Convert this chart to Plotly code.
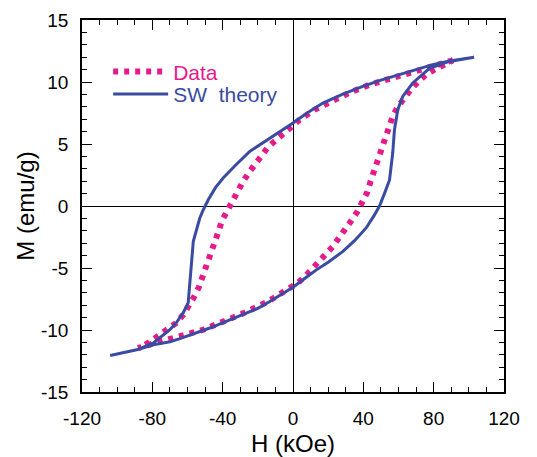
import plotly.graph_objects as go

# SW theory: descending (upper) branch then ascending (lower) branch
sw_h_up = [103, 89, 79.5, 70, 60.5, 50, 39.7, 28, 17, 8, 0, -10, -24.6, -33, -39.7, -44,
           -48.2, -51, -53, -56.7, -59.6, -62.4, -66, -70, -79.4, -88.9, -104]
sw_m_up = [12.0, 11.7, 11.4, 11.0, 10.6, 10.15, 9.65, 9.0, 8.3, 7.5, 6.7, 5.75, 4.4, 3.25, 2.26, 1.5,
           0.5, -0.3, -0.97, -2.85, -7.8, -8.6, -9.35, -9.98, -11.05, -11.6, -12.05]
sw_h_lo = [-104, -88.9, -79.4, -70, -64.3, -55, -47.3, -38, -28.4, -20, -13.2, -6, 0, 9.5, 13.3, 20,
           28.4, 35, 41.6, 46, 49.2, 52, 54.9, 56.7, 57.7, 59.6, 62.4, 68.1, 77.6, 88.9, 103]
sw_m_lo = [-12.05, -11.6, -11.2, -10.95, -10.7, -10.25, -9.84, -9.3, -8.77, -8.25, -7.7, -7.1, -6.55,
           -5.55, -5.15, -4.53, -3.66, -2.8, -1.77, -0.8, 0, 1.0, 2.1, 4.27, 6.15, 7.77, 8.84, 9.92, 11.1,
           11.66, 12.0]

# Measured data
data_h_up = [91, 85, 80, 75, 70, 60.5, 49.2, 43.5, 33.1, 22.7, 12.3, 3.8, -0.9, -5.7, -9.4, -14.2,
             -17.4, -21.2, -25, -28.7, -31.6, -35, -38.2, -40.6, -42.5, -44.8, -46.3, -48.8, -51,
             -53.5, -56.3, -59.6, -62.4, -66.6, -70.9, -75.6, -79.8, -84.1, -88]
data_m_up = [11.75, 11.5, 11.3, 11.1, 10.9, 10.59, 10.05, 9.78, 9.2, 8.5, 7.77, 6.96, 6.4, 5.9, 5.35,
             4.76, 4.14, 3.47, 2.72, 1.9, 1.18, 0.37, -0.43, -1.24, -2.1, -3.0, -3.87, -4.8, -5.73,
             -6.53, -7.34, -8.1, -8.77, -9.44, -9.92, -10.46, -10.8, -11.2, -11.45]
data_h_lo = [-88, -84, -79.8, -72.8, -67.1, -61.4, -56.7, -51, -46.3, -40.6, -35.9, -30.2, -25, -20.4,
             -15.1, -11, -5.7, -0.9, 2.8, 7.4, 11.3, 15.5, 19.3, 22.7, 26.1, 29.9, 33.1, 36.5, 39.7,
             42.2, 44.1, 46.4, 48.2, 50.5, 52.6, 54.5, 56.7, 59.6, 63.4, 67.2, 71.5, 75.7, 80.4, 85.1, 91]
data_m_lo = [-11.45, -11.3, -11.1, -10.84, -10.65, -10.46, -10.24, -9.98, -9.7, -9.4, -9.1, -8.77,
             -8.44, -8.18, -7.77, -7.42, -7.0, -6.6, -6.2, -5.6, -5.0, -4.4, -3.85, -3.26, -2.58,
             -1.91, -1.19, -0.48, 0.29, 1.1, 1.98, 2.93, 3.87, 4.73, 5.6, 6.48, 7.23, 8.0, 8.8, 9.43,
             10.05, 10.6, 11.0, 11.35, 11.75]

# Tick labels (plain hyphen minus, as in the reference)
x_ticks = [-120, -80, -40, 0, 40, 80, 120]
x_labels = ["-120", "-80", "-40", "0", "40", "80", "120"]
y_ticks = [-15, -10, -5, 0, 5, 10, 15]
y_labels = ["-15", "-10", "-5", "0", "5", "10", "15"]
x_minor = [v for v in range(-120, 121, 10) if v % 40 != 0]
y_minor = [v for v in range(-15, 16) if v % 5 != 0]

PINK = "#E8198B"
BLUE = "#3A4BA2"
FONT = "Liberation Sans, Arial, sans-serif"

fig = go.Figure()
fig.add_trace(go.Scatter(
    x=data_h_up + data_h_lo, y=data_m_up + data_m_lo, mode="lines",
    name='<span style="color:%s">Data</span>' % PINK,
    line=dict(color=PINK, width=6, dash="5px,6px"),
    legend="legend",
))
fig.add_trace(go.Scatter(
    x=sw_h_up + sw_h_lo, y=sw_m_up + sw_m_lo, mode="lines",
    name='<span style="color:%s">SW  theory</span>' % BLUE,
    line=dict(color=BLUE, width=3),
    legend="legend2",
))

axis_common = dict(
    showgrid=False, zeroline=True, zerolinecolor="black", zerolinewidth=1,
    showline=True, linecolor="black", linewidth=1.5, mirror="allticks",
    ticks="inside", ticklen=10, tickwidth=1, tickcolor="black",
    tickfont=dict(family=FONT, size=19, color="black"),
    ticklabelstandoff=8, automargin=False,
)

fig.update_xaxes(
    range=[-120, 120], tickmode="array", tickvals=x_ticks, ticktext=x_labels,
    minor=dict(ticks="inside", ticklen=5, tickvals=x_minor, tickcolor="black", tickwidth=1),
    title=dict(text="H (kOe)", font=dict(family=FONT, size=24, color="black"), standoff=9),
    **axis_common,
)
fig.update_yaxes(
    range=[-15, 15], tickmode="array", tickvals=y_ticks, ticktext=y_labels,
    minor=dict(ticks="inside", ticklen=5, tickvals=y_minor, tickcolor="black", tickwidth=1),
    title=dict(text="M (emu/g)", font=dict(family=FONT, size=24, color="black"), standoff=0),
    **axis_common,
)

leg_common = dict(
    xanchor="left", yanchor="middle",
    bgcolor="rgba(0,0,0,0)", borderwidth=0,
    font=dict(family=FONT, size=21),
    itemwidth=55,
)

# page body has an 8px margin, so the figure is sized/margined to compensate
fig.update_layout(
    width=529, height=449,
    margin=dict(l=74, r=33, t=12, b=65),
    paper_bgcolor="white", plot_bgcolor="white",
    showlegend=True,
    legend=dict(x=0.062, y=1 - (72 - 20) / 372.3, **leg_common),
    legend2=dict(x=0.062, y=1 - (94.5 - 20) / 372.3, **leg_common),
)

fig.write_html("out.html")
